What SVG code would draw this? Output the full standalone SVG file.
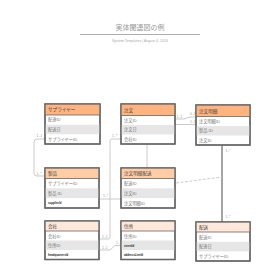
<svg xmlns="http://www.w3.org/2000/svg" width="280" height="280" viewBox="0 0 280 280">
<style>
text{font-family:"Liberation Sans","Noto Sans CJK JP",sans-serif}
.t{font-size:7px;fill:#999;text-anchor:middle}
.s{font-size:3.6px;fill:#aaa;text-anchor:middle}
.hd{font-size:4.6px;fill:#444}
.r{font-size:4.2px;fill:#777}
.sm{font-size:2.8px;fill:#222;font-weight:bold}
.box{fill:#fff;stroke:#666;stroke-width:1.3}
.frame{fill:none;stroke:#666;stroke-width:1.3}
.hl{stroke:#666;stroke-width:0.8}
.h1{fill:#FFB37E}
.h2{fill:#FFCCA6}
.h3{fill:#FFE7D9}
.alt{fill:#E6E6E6}
.c{fill:none;stroke:#c4c4c4;stroke-width:0.9}
.cd{fill:none;stroke:#666;stroke-width:1.2}
.dash{fill:none;stroke:#c4c4c4;stroke-width:0.9;stroke-dasharray:3,1.5}
.l{font-size:3.4px;fill:#999}
.sep{stroke:#999;stroke-width:0.8}
</style>
<text class="t" x="140" y="30">実体関連図の例</text>
<line class="sep" x1="80" y1="34.5" x2="200" y2="34.5"/>
<text class="s" x="140" y="42">System Templates  |  August 4, 2016</text>

<g id="connectors">
<path class="c" d="M45,139 H37 Q34,139 34,142 V173 Q34,176 37,176 H45"/>
<text class="l" x="36.5" y="137">1..1</text>
<text class="l" x="36.5" y="174.5">1..*</text>
<path class="c" d="M175,119 H184 L190,117 H196"/>
<path class="c" d="M175,124.5 H196"/>
<text class="l" x="176.5" y="117.5">1..1</text>
<text class="l" x="190" y="114.5">0..1</text>
<text class="l" x="190" y="122.5">1..1</text>
<path class="c" d="M147,144 V168"/>
<path class="c" d="M121,139 H112 Q110,139 110,141 V237 Q110,239 108,239 H100"/>
<text class="l" x="112" y="136.5">1..*</text>
<text class="l" x="102" y="237.5">1..1</text>
<path class="c" d="M100,250 H110 L115,245.5 H121"/>
<text class="l" x="102" y="248.5">1..1</text>
<text class="l" x="116" y="243.5">1..*</text>
<path class="c" d="M100,199 H121"/>
<text class="l" x="103" y="196.5">1..*</text>
<path class="cd" d="M222,145 V222"/>
<text class="l" x="225.5" y="151.5">1..*</text>
<text class="l" x="225.5" y="217.5">1..*</text>
<path class="dash" d="M176,183 L222,177"/>
</g>

<g id="supplier">
<rect class="box" x="45" y="104" width="55" height="40"/>
<rect class="h1" x="45" y="104" width="55" height="11"/>
<rect class="alt" x="45" y="124.7" width="55" height="9.6"/>
<rect class="frame" x="45" y="104" width="55" height="40"/>
<line class="hl" x1="45" y1="115" x2="100" y2="115"/>
<text class="hd" x="48" y="111.3">サプライヤー</text>
<text class="r" x="48" y="121.2">配達ID</text>
<text class="r" x="48" y="130.8">配送日</text>
<text class="r" x="48" y="140.5">サプライヤーID</text>
</g>

<g id="order">
<rect class="box" x="121" y="104" width="54" height="40"/>
<rect class="h1" x="121" y="104" width="54" height="11.5"/>
<rect class="alt" x="121" y="125" width="54" height="9.5"/>
<rect class="frame" x="121" y="104" width="54" height="40"/>
<line class="hl" x1="121" y1="115.5" x2="175" y2="115.5"/>
<text class="hd" x="124" y="111.5">注文</text>
<text class="r" x="124" y="121.8">注文ID</text>
<text class="r" x="124" y="131.3">注文日</text>
<text class="r" x="124" y="140.8">会社ID</text>
</g>

<g id="orderline">
<rect class="box" x="196" y="105" width="54" height="40"/>
<rect class="h1" x="196" y="105" width="54" height="11.5"/>
<rect class="alt" x="196" y="126" width="54" height="9.5"/>
<rect class="frame" x="196" y="105" width="54" height="40"/>
<line class="hl" x1="196" y1="116.5" x2="250" y2="116.5"/>
<text class="hd" x="199" y="112.5">注文明細</text>
<text class="r" x="199" y="122.8">注文明細ID</text>
<text class="r" x="199" y="132.3">製品 ID</text>
<text class="r" x="199" y="141.8">注文ID</text>
</g>

<g id="product">
<rect class="box" x="45" y="168" width="54" height="40"/>
<rect class="h2" x="45" y="168" width="54" height="10.5"/>
<rect class="alt" x="45" y="188.3" width="54" height="9.8"/>
<rect class="frame" x="45" y="168" width="54" height="40"/>
<line class="hl" x1="45" y1="178.5" x2="99" y2="178.5"/>
<text class="hd" x="48" y="175">製品</text>
<text class="r" x="48" y="185">サプライヤーID</text>
<text class="r" x="48" y="194.8">製品 ID</text>
<text class="sm" x="48" y="204">supplierId</text>
</g>

<g id="orderdelivery">
<rect class="box" x="121" y="168" width="54" height="40"/>
<rect class="h2" x="121" y="168" width="54" height="10.5"/>
<rect class="alt" x="121" y="188.3" width="54" height="9.8"/>
<rect class="frame" x="121" y="168" width="54" height="40"/>
<line class="hl" x1="121" y1="178.5" x2="175" y2="178.5"/>
<text class="hd" x="124" y="175">注文明細配送</text>
<text class="r" x="124" y="185">配送ID</text>
<text class="r" x="124" y="194.8">注文ID</text>
<text class="r" x="124" y="204.5">注文明細ID</text>
</g>

<g id="company">
<rect class="box" x="45" y="221" width="54" height="38.5"/>
<rect class="h3" x="45" y="221" width="54" height="10"/>
<rect class="alt" x="45" y="240.5" width="54" height="9.5"/>
<rect class="frame" x="45" y="221" width="54" height="38.5"/>
<line class="hl" x1="45" y1="231" x2="99" y2="231"/>
<text class="hd" x="48" y="227.7">会社</text>
<text class="r" x="48" y="237.5">会社ID</text>
<text class="r" x="48" y="247">住所ID</text>
<text class="sm" x="48" y="256">headquartersId</text>
</g>

<g id="address">
<rect class="box" x="121" y="221" width="54" height="38.5"/>
<rect class="h3" x="121" y="221" width="54" height="10"/>
<rect class="alt" x="121" y="240.5" width="54" height="9.5"/>
<rect class="frame" x="121" y="221" width="54" height="38.5"/>
<line class="hl" x1="121" y1="231" x2="175" y2="231"/>
<text class="hd" x="124" y="227.7">住所</text>
<text class="r" x="124" y="237.5">住所ID</text>
<text class="sm" x="124" y="246.8">streetId</text>
<text class="sm" x="124" y="256">addressLineId</text>
</g>

<g id="delivery">
<rect class="box" x="196" y="222" width="54" height="39"/>
<rect class="h3" x="196" y="222" width="54" height="10"/>
<rect class="alt" x="196" y="241.8" width="54" height="9.6"/>
<rect class="frame" x="196" y="222" width="54" height="39"/>
<line class="hl" x1="196" y1="232" x2="250" y2="232"/>
<text class="hd" x="199" y="228.7">配送</text>
<text class="r" x="199" y="238.8">配送ID</text>
<text class="r" x="199" y="248.3">配達日</text>
<text class="r" x="199" y="258">サプライヤーID</text>
</g>
</svg>
